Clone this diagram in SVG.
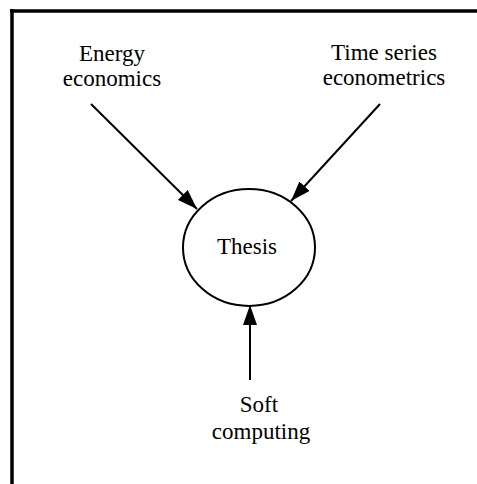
<svg xmlns="http://www.w3.org/2000/svg" width="477" height="484" viewBox="0 0 477 484">
<style>
.t{font-family:'Liberation Serif','Times New Roman',Times,serif;font-size:23px;fill:#000;text-anchor:middle}
.c{stroke:#000;stroke-width:2;fill:none}
</style>
<defs>
<marker id="ah" viewBox="0 0 20 14" refX="20" refY="7" markerWidth="20" markerHeight="14" markerUnits="userSpaceOnUse" orient="auto">
<path d="M0,0 L20,7 L0,14 Z" fill="#000"/>
</marker>
</defs>
<rect width="477" height="484" fill="#fff"/>
<g id="frame">
<line x1="10" y1="11" x2="477" y2="11" stroke="#000" stroke-width="3.5"/>
<line x1="12" y1="9" x2="12" y2="484" stroke="#000" stroke-width="3.5"/>
</g>
<g id="connectors">
<line class="c" x1="91" y1="104" x2="197" y2="209" marker-end="url(#ah)"/>
<line class="c" x1="380" y1="104" x2="291" y2="201" marker-end="url(#ah)"/>
<line class="c" x1="250" y1="380" x2="250" y2="305" marker-end="url(#ah)"/>
</g>
<g id="thesis">
<ellipse cx="249" cy="247.5" rx="66" ry="58.5" fill="none" stroke="#000" stroke-width="2"/>
<text class="t" x="247" y="254">Thesis</text>
</g>
<g id="energy">
<text class="t" x="112" y="61">Energy</text>
<text class="t" x="112" y="86">economics</text>
</g>
<g id="timeseries">
<text class="t" x="384" y="60">Time series</text>
<text class="t" x="384" y="85">econometrics</text>
</g>
<g id="soft">
<text class="t" x="259" y="412">Soft</text>
<text class="t" x="261" y="439">computing</text>
</g>
</svg>
